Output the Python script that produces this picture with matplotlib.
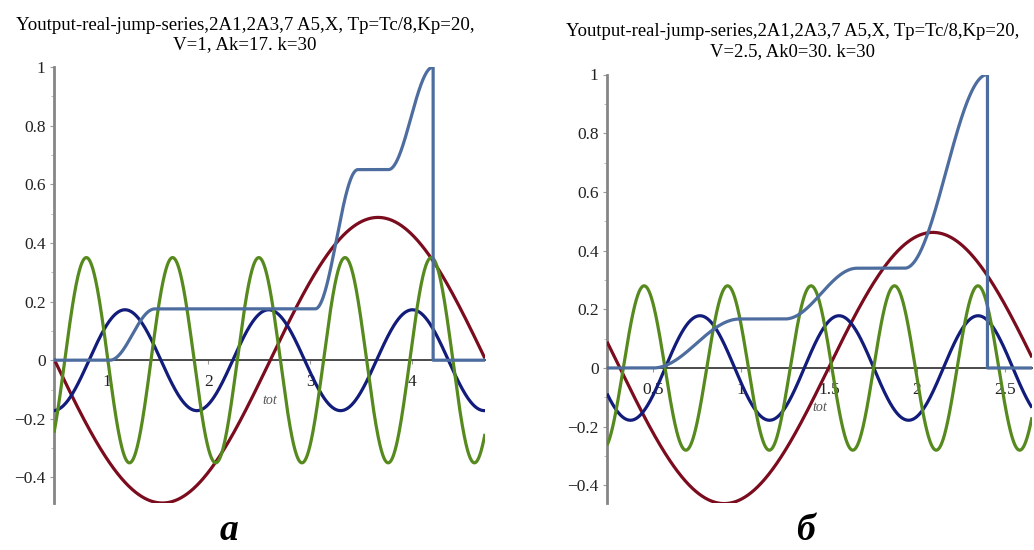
import numpy as np
import matplotlib
matplotlib.use("Agg")
import matplotlib.pyplot as plt
from matplotlib.ticker import FixedLocator, MultipleLocator

plt.rcParams['font.family'] = ['Liberation Serif', 'DejaVu Serif']
plt.rcParams['axes.unicode_minus'] = True

# ---- panel а: V=1 -------------------------------------------------------
a_title = ["Youtput-real-jump-series,2A1,2A3,7 A5,X, Tp=Tc/8,Kp=20,",
           "V=1, Ak=17. k=30"]
a_trange = (0.482, 4.72)
a_period = 4.24                      # period of the fundamental
a_orders = [1, 3, 5]                 # harmonic numbers
a_amps = [0.487, 0.172, 0.35]        # amplitudes of harmonics 1, 3, 5
a_peaks = [3.668, 1.18, 0.80]        # time of a maximum of each harmonic
a_levels = [0.0, 0.175, 0.650, 1.0]  # plateau levels of the output
a_rise_start = [1.03, 3.05, 3.77]
a_rise_end = [1.475, 3.47, 4.21]
a_drop = 4.21
a_xticks = [1, 2, 3, 4]
a_yticks = [-0.4, -0.2, 0, 0.2, 0.4, 0.6, 0.8, 1]
a_ylim = (-0.487, 1.0)

# ---- panel б: V=2.5 -----------------------------------------------------
b_title = ["Youtput-real-jump-series,2A1,2A3,7 A5,X, Tp=Tc/8,Kp=20,",
           "V=2.5, Ak0=30. k=30"]
b_trange = (0.239, 2.653)
b_period = 2.37
b_orders = [1, 3, 5]
b_amps = [0.462, 0.178, 0.28]
b_peaks = [2.09, 0.767, 0.45]
b_levels = [0.0, 0.167, 0.34, 1.0]
b_rise_start = [0.50, 1.25, 1.93]
b_rise_end = [0.994, 1.66, 2.40]
b_drop = 2.40
b_xticks = [0.5, 1, 1.5, 2, 2.5]
b_yticks = [-0.4, -0.2, 0, 0.2, 0.4, 0.6, 0.8, 1]
b_ylim = (-0.46, 1.0)

harm_colors = ['#7a0c1e', '#121c7a', '#578a1e']
out_color = '#4e6d9f'


def harmonic(t, period, order, amp, peak):
    return amp * np.cos(2 * np.pi * order * (t - peak) / period)


def output_curve(t, levels, starts, ends, drop):
    y = np.full_like(t, levels[0])
    for k in range(len(starts)):
        lo, hi = levels[k], levels[k + 1]
        s, e = starts[k], ends[k]
        frac = np.clip((t - s) / (e - s), 0, 1)
        ease = (1 - np.cos(np.pi * frac)) / 2
        y = np.where(t >= s, lo + (hi - lo) * ease, y)
    y = np.where(t > drop, 0.0, y)
    return y


def draw_panel(ax, trange, period, orders, amps, peaks, levels, starts,
               ends, drop, xticks, yticks, ylim, tot_xy):
    t = np.linspace(trange[0], trange[1], 1500)
    for order, amp, peak, col in zip(orders, amps, peaks, harm_colors):
        ax.plot(t, harmonic(t, period, order, amp, peak), color=col,
                lw=2.3, solid_capstyle='butt', zorder=3)
    t1 = np.linspace(trange[0], drop, 1200)
    t2 = np.linspace(drop, trange[1], 50)
    tt = np.concatenate([t1, [drop], t2])
    yy = np.concatenate([output_curve(t1, levels, starts, ends, drop + 1),
                         [0.0], np.zeros_like(t2)])
    ax.plot(tt, yy, color=out_color, lw=2.3, zorder=4)

    ax.set_xlim(*trange)
    ax.set_ylim(*ylim)
    for side in ('top', 'right'):
        ax.spines[side].set_visible(False)
    ax.spines['bottom'].set_position(('data', 0))
    ax.spines['bottom'].set_color('#4a4a4a')
    ax.spines['bottom'].set_linewidth(1.4)
    ax.spines['bottom'].set_zorder(2)
    ax.spines['left'].set_color('#858585')
    ax.spines['left'].set_linewidth(2.0)
    ax.set_axisbelow(True)

    ax.xaxis.set_major_locator(FixedLocator(xticks))
    ax.set_xticklabels([f"{v:g}" for v in xticks])
    ax.yaxis.set_major_locator(FixedLocator(yticks))
    ax.set_yticklabels([f"{v:g}".replace('-', '\u2212') for v in yticks])
    ax.yaxis.set_minor_locator(MultipleLocator(0.1))
    ax.tick_params(axis='both', which='major', labelsize=12.5,
                   colors='#9a9a9a', labelcolor='#222222')
    ax.tick_params(axis='y', which='major', length=3, width=0.8, pad=3)
    ax.tick_params(axis='y', which='minor', length=2, width=0.6,
                   colors='#b0b0b0')
    ax.tick_params(axis='x', which='major', length=3, width=0.8, pad=7,
                   direction='out')
    ax.text(tot_xy[0], tot_xy[1], "tot", fontsize=10, style='italic',
            color='#555555', ha='center', va='center', zorder=1)


fig = plt.figure(figsize=(10.34, 5.5), dpi=100)
W, H = 1034, 550
axA = fig.add_axes([54 / W, (H - 503) / H, 431 / W, 436 / H])
axB = fig.add_axes([607 / W, (H - 503) / H, 425 / W, (503 - 74.5) / H])

draw_panel(axA, a_trange, a_period, a_orders, a_amps, a_peaks, a_levels,
           a_rise_start, a_rise_end, a_drop, a_xticks, a_yticks, a_ylim,
           (2.6, -0.136))
draw_panel(axB, b_trange, b_period, b_orders, b_amps, b_peaks, b_levels,
           b_rise_start, b_rise_end, b_drop, b_xticks, b_yticks, b_ylim,
           (1.45, -0.136))

fig.text(245 / W, 1 - 25 / H, a_title[0], ha='center', va='center',
         fontsize=13.6)
fig.text(245 / W, 1 - 45 / H, a_title[1], ha='center', va='center',
         fontsize=13.6)
fig.text(793 / W, 1 - 32 / H, b_title[0], ha='center', va='center',
         fontsize=13.4)
fig.text(793 / W, 1 - 52 / H, b_title[1], ha='center', va='center',
         fontsize=13.4)

fig.text(229 / W, 1 - 540 / H, "а", ha='center', va='baseline',
         fontsize=27, fontweight='bold', style='italic')
fig.text(805 / W, 1 - 540 / H, "б", ha='center', va='baseline',
         fontsize=27, fontweight='bold', style='italic')

fig.savefig("out.png", dpi=100, facecolor='white')
